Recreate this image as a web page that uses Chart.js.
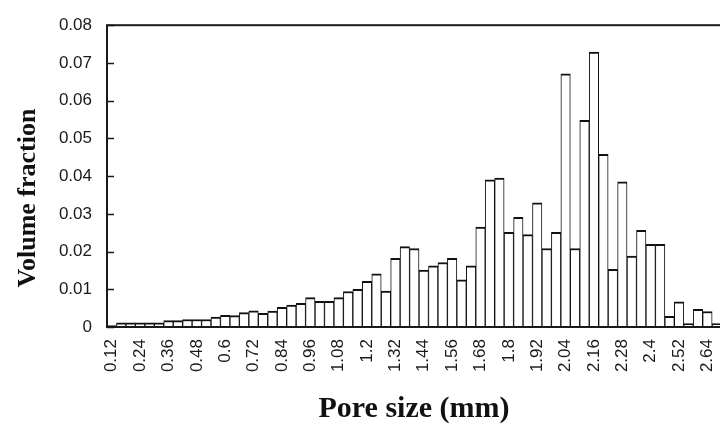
<!DOCTYPE html>
<html>
<head>
<meta charset="utf-8">
<script src="https://cdn.jsdelivr.net/npm/chart.js@4.4.1/dist/chart.umd.min.js"></script>
<style>
  html, body { margin: 0; padding: 0; background: #fff; overflow: hidden; }
  #wrap { width: 720px; height: 424px; overflow: hidden; }
</style>
</head>
<body>
<div id="wrap"><canvas id="pore-chart" width="732" height="424"></canvas></div>
<script>
// pore size classes (mm), one bar each
const poreSizes = [0.12, 0.16, 0.2, 0.24, 0.28, 0.32, 0.36, 0.4, 0.44, 0.48, 0.52, 0.56, 0.6,
  0.64, 0.68, 0.72, 0.76, 0.8, 0.84, 0.88, 0.92, 0.96, 1, 1.04, 1.08, 1.12, 1.16, 1.2,
  1.24, 1.28, 1.32, 1.36, 1.4, 1.44, 1.48, 1.52, 1.56, 1.6, 1.64, 1.68, 1.72, 1.76, 1.8,
  1.84, 1.88, 1.92, 1.96, 2, 2.04, 2.08, 2.12, 2.16, 2.2, 2.24, 2.28, 2.32, 2.36, 2.4,
  2.44, 2.48, 2.52, 2.56, 2.6, 2.64, 2.68];

const volumeFraction = [0.0004, 0.0011, 0.0011, 0.0011, 0.0011, 0.0011, 0.0017, 0.0017, 0.002, 0.002,
  0.002, 0.0026, 0.0031, 0.003, 0.0038, 0.0043, 0.0036, 0.0042, 0.0052, 0.0058,
  0.0063, 0.0078, 0.0068, 0.0068, 0.0078, 0.0094, 0.01, 0.0121, 0.0141, 0.0095,
  0.0182, 0.0213, 0.0208, 0.0151, 0.0162, 0.0171, 0.0182, 0.0125, 0.0162, 0.0265,
  0.039, 0.0395, 0.0251, 0.0291, 0.0245, 0.0329, 0.0208, 0.0251, 0.0671, 0.0208,
  0.0548, 0.0729, 0.0458, 0.0153, 0.0385, 0.0188, 0.0256, 0.0219, 0.0219, 0.0028,
  0.0067, 0.0009, 0.0047, 0.0041, 0.0009];

const yTickLabels = ['0', '0.01', '0.02', '0.03', '0.04', '0.05', '0.06', '0.07', '0.08'];

const xTitle = 'Pore size (mm)';
const yTitle = 'Volume fraction';

const textColor = '#1a1a1a';

// box round the plot, small inward ticks on the y axis, axis titles
const frame = {
  id: 'frame',
  afterDraw(chart) {
    const { ctx, chartArea: { top, bottom, left, right }, scales: { y } } = chart;
    ctx.save();
    ctx.strokeStyle = '#1a1a1a';
    ctx.lineWidth = 2;
    ctx.strokeRect(left, top, right - left, bottom - top);
    ctx.lineWidth = 1.5;
    y.ticks.forEach(t => {
      const py = Math.round(y.getPixelForValue(t.value)) + 0.5;
      ctx.beginPath();
      ctx.moveTo(left, py);
      ctx.lineTo(left + 7, py);
      ctx.stroke();
    });

    ctx.fillStyle = '#111';
    ctx.textAlign = 'center';
    ctx.textBaseline = 'middle';
    ctx.font = 'bold 30px "Liberation Serif"';
    ctx.fillText(xTitle, 414, 409);

    ctx.translate(28, 198);
    ctx.rotate(-Math.PI / 2);
    ctx.font = 'bold 26px "Liberation Serif"';
    ctx.fillText(yTitle, 0, 0);
    ctx.restore();
  }
};

const config = {
  type: 'bar',
  data: {
    labels: poreSizes,
    datasets: [{
      data: volumeFraction,
      backgroundColor: '#ffffff',
      borderColor: '#111111',
      borderWidth: { top: 2, left: 1, right: 1, bottom: 0 },
      categoryPercentage: 1,
      barPercentage: 1,
    }]
  },
  options: {
    responsive: false,
    animation: false,
    layout: { padding: { top: 19, right: 7.5, left: 0, bottom: 0 } },
    plugins: {
      legend: { display: false },
      tooltip: { enabled: false },
    },
    scales: {
      x: {
        grid: { display: false },
        border: { display: false },
        afterFit: (scale) => { scale.height = 97; },
        ticks: {
          autoSkip: false,
          maxRotation: 90,
          minRotation: 90,
          padding: 4,
          color: textColor,
          font: { family: 'Liberation Sans', size: 17 },
          callback: (value, index) => index % 3 === 0 ? String(poreSizes[index]) : null,
        }
      },
      y: {
        min: 0,
        max: 0.08,
        grid: { display: false, drawTicks: false },
        border: { display: false },
        afterFit: (scale) => { scale.width = 107; },
        ticks: {
          stepSize: 0.01,
          padding: 15,
          color: textColor,
          font: { family: 'Liberation Sans', size: 17 },
          callback: (value, index) => yTickLabels[index],
        }
      }
    }
  },
  plugins: [frame]
};

const poreChart = new Chart(document.getElementById('pore-chart'), config);
</script>
</body>
</html>
